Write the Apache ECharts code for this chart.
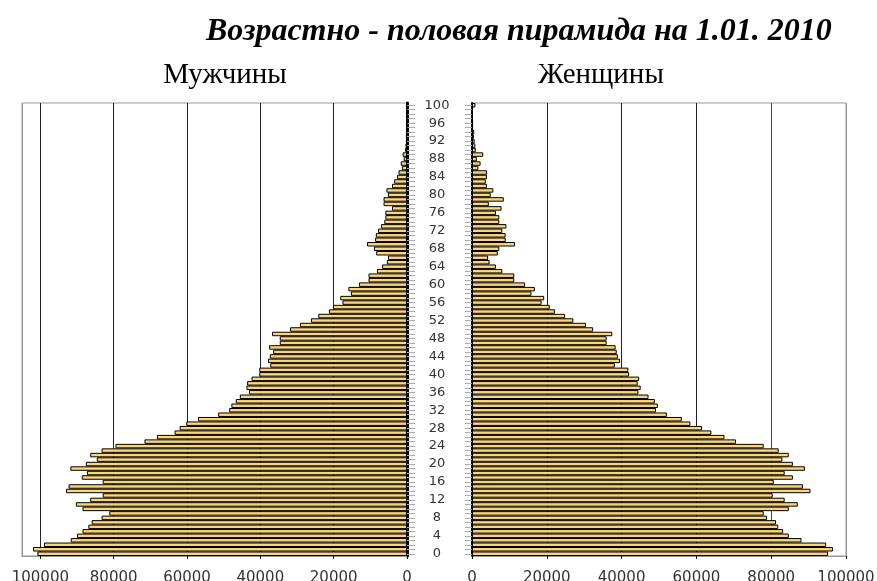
<!DOCTYPE html>
<html>
<head>
<meta charset="utf-8">
<script src="https://cdn.jsdelivr.net/npm/echarts@6/dist/echarts.min.js"></script>
<style>
  html, body { margin: 0; padding: 0; background: #fff; }
  #main { width: 877px; height: 581px; }
</style>
</head>
<body>
<div id="main"></div>
<script>
// ages 0..100
const ages = [];
for (let a = 0; a <= 100; a++) ages.push(String(a));

// population in thousands
const male = [
  100.8, 102.0, 99.0, 91.7, 90.0, 88.5, 86.9, 86.0, 83.3, 81.2,
  88.5, 90.3, 86.4, 83.0, 93.0, 92.3, 83.0, 88.7, 87.3, 91.8,
  87.6, 84.6, 86.4, 83.3, 79.5, 71.6, 68.2, 63.4, 62.0, 60.2,
  57.0, 51.5, 48.5, 47.9, 46.7, 45.6, 43.1, 43.8, 43.6, 42.4,
  40.3, 40.3, 37.3, 37.9, 37.4, 36.5, 37.6, 34.7, 34.7, 36.8,
  31.9, 29.2, 26.2, 24.2, 21.3, 20.2, 17.6, 18.2, 15.3, 16.0,
  13.1, 10.5, 10.5, 8.2, 6.8, 5.5, 5.2, 8.4, 9.0, 10.9,
  8.7, 8.5, 7.9, 7.1, 6.2, 5.9, 5.9, 4.1, 6.4, 6.4,
  5.2, 5.6, 4.1, 3.5, 2.7, 2.3, 1.4, 1.7, 0.9, 1.2,
  0.5, 0.4, 0.3, 0.3, 0.2, 0.2, 0.1, 0.1, 0.1, 0.1, 0.2
];
const female = [
  95.2, 96.5, 94.7, 88.1, 84.7, 83.2, 81.9, 81.3, 78.9, 78.0,
  84.7, 87.1, 83.6, 80.4, 90.5, 88.5, 80.7, 85.8, 83.6, 89.0,
  85.8, 83.0, 84.7, 82.0, 78.0, 70.6, 67.5, 64.0, 61.5, 58.4,
  56.1, 52.1, 49.2, 49.7, 48.9, 47.2, 44.5, 45.1, 44.3, 44.7,
  42.0, 41.8, 38.2, 39.6, 39.0, 38.7, 38.4, 36.0, 36.0, 37.5,
  32.4, 30.5, 27.1, 24.9, 22.2, 20.8, 18.6, 19.3, 15.9, 16.8,
  14.2, 11.3, 11.3, 8.1, 6.4, 4.7, 4.3, 6.9, 7.3, 11.5,
  9.0, 9.0, 8.1, 9.2, 7.3, 7.3, 6.4, 7.9, 4.5, 8.5,
  5.0, 5.7, 4.0, 3.7, 4.0, 4.0, 1.7, 2.3, 1.3, 3.0,
  1.0, 0.9, 0.7, 0.5, 0.6, 0.3, 0.3, 0.2, 0.2, 0.2, 0.9
];

const chart = echarts.init(document.getElementById('main'));

const labelFont = { fontFamily: 'DejaVu Sans', color: '#333' };
const barStyle = { color: '#FAD57A', borderColor: '#000', borderWidth: 1 };
const plain = v => (v > 100000 ? '' : String(v));

chart.setOption({
  animation: false,
  title: [
    {
      text: 'Возрастно - половая пирамида на 1.01. 2010',
      left: 201, top: 11,
      textStyle: { fontFamily: 'Liberation Serif', fontSize: 32, fontStyle: 'italic', fontWeight: 'bold', color: '#000' }
    },
    {
      text: 'Мужчины', left: 220, top: 56, textAlign: 'center',
      textStyle: { fontFamily: 'Liberation Serif', fontSize: 29, fontWeight: 'normal', color: '#000' }
    },
    {
      text: 'Женщины', left: 596, top: 56, textAlign: 'center',
      textStyle: { fontFamily: 'Liberation Serif', fontSize: 29, fontWeight: 'normal', color: '#000' }
    }
  ],
  grid: [
    { left: 22, right: 470, top: 103, bottom: 25, outerBoundsMode: 'none', show: true, borderColor: '#999', borderWidth: 1 },
    { left: 472, right: 31, top: 103, bottom: 25, outerBoundsMode: 'none', show: true, borderColor: '#999', borderWidth: 1 }
  ],
  xAxis: [
    {
      gridIndex: 0, type: 'value', inverse: true, min: 0, max: 105000, interval: 20000,
      axisLine: { show: true, lineStyle: { color: '#999' } },
      axisTick: { show: true, length: 3, lineStyle: { color: '#000' } },
      splitLine: { show: true, lineStyle: { color: ['#000', '#222', '#222', '#222', '#222', '#222', '#999'] } },
      axisLabel: Object.assign({ fontSize: 15, margin: 15, showMaxLabel: false, formatter: plain }, labelFont)
    },
    {
      gridIndex: 1, type: 'value', min: 0, max: 100000, interval: 20000,
      axisLine: { show: true, lineStyle: { color: '#999' } },
      axisTick: { show: true, length: 3, lineStyle: { color: '#000' } },
      splitLine: { show: true, lineStyle: { color: ['#000', '#222', '#222', '#222', '#444', '#999'] } },
      axisLabel: Object.assign({ fontSize: 15, margin: 15, formatter: plain }, labelFont)
    }
  ],
  yAxis: [
    {
      gridIndex: 0, type: 'category', data: ages, position: 'right',
      axisLine: { show: true, onZero: false, lineStyle: { color: '#000', width: 3 } },
      axisTick: { show: true, interval: 0, length: 8, alignWithLabel: true, lineStyle: { color: '#aaa' } },
      axisLabel: Object.assign({ interval: 3, fontSize: 13, margin: 30, align: 'center' }, labelFont)
    },
    {
      gridIndex: 1, type: 'category', data: ages, position: 'left',
      axisLine: { show: true, onZero: false, lineStyle: { color: '#000', width: 2 } },
      axisTick: { show: true, interval: 0, length: 7, alignWithLabel: true, lineStyle: { color: '#aaa' } },
      axisLabel: { show: false }
    }
  ],
  series: [
    {
      name: 'Мужчины', type: 'bar', xAxisIndex: 0, yAxisIndex: 0,
      barCategoryGap: '0%', itemStyle: barStyle,
      data: male.map(v => Math.round(v * 1000))
    },
    {
      name: 'Женщины', type: 'bar', xAxisIndex: 1, yAxisIndex: 1,
      barCategoryGap: '0%', itemStyle: barStyle,
      data: female.map(v => Math.round(v * 1000))
    }
  ]
});
</script>
</body>
</html>
